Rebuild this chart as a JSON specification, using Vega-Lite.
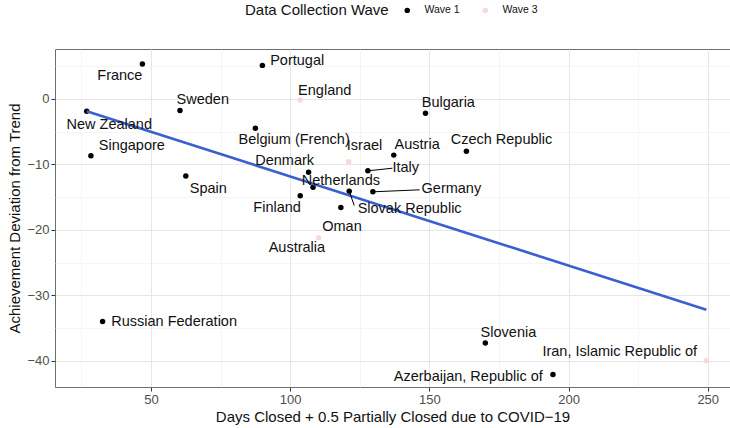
{
  "$schema": "https://vega.github.io/schema/vega-lite/v6.json",
  "width": 675,
  "height": 338,
  "autosize": "none",
  "padding": {"left": 55, "top": 49, "right": 0, "bottom": 41},
  "background": "white",
  "config": {
    "font": "Liberation Sans",
    "view": {"stroke": "#6e6e6e", "strokeWidth": 1}
  },
  "datasets": {
    "countries": [
      {"country": "France", "wave": "Wave 1", "days": 46.9, "dev": 5.3, "lx": 38.8, "ly": 3.5},
      {"country": "Portugal", "wave": "Wave 1", "days": 90.0, "dev": 5.1, "lx": 102.5, "ly": 5.8},
      {"country": "England", "wave": "Wave 3", "days": 103.6, "dev": -0.2, "lx": 112.4, "ly": 1.2},
      {"country": "Sweden", "wave": "Wave 1", "days": 60.4, "dev": -1.8, "lx": 68.6, "ly": -0.2},
      {"country": "New Zealand", "wave": "Wave 1", "days": 26.9, "dev": -1.9, "lx": 35.0, "ly": -4.0},
      {"country": "Singapore", "wave": "Wave 1", "days": 28.4, "dev": -8.7, "lx": 43.1, "ly": -7.2},
      {"country": "Spain", "wave": "Wave 1", "days": 62.5, "dev": -11.8, "lx": 70.6, "ly": -13.7},
      {"country": "Belgium (French)", "wave": "Wave 1", "days": 87.5, "dev": -4.5, "lx": 101.4, "ly": -6.3},
      {"country": "Israel", "wave": "Wave 3", "days": 121.0, "dev": -9.6, "lx": 126.7, "ly": -7.2},
      {"country": "Austria", "wave": "Wave 1", "days": 137.2, "dev": -8.6, "lx": 145.6, "ly": -7.0},
      {"country": "Czech Republic", "wave": "Wave 1", "days": 163.3, "dev": -8.0, "lx": 175.9, "ly": -6.3},
      {"country": "Bulgaria", "wave": "Wave 1", "days": 148.6, "dev": -2.2, "lx": 156.8, "ly": -0.7},
      {"country": "Denmark", "wave": "Wave 1", "days": 106.6, "dev": -11.2, "lx": 98.0, "ly": -9.5},
      {"country": "Italy", "wave": "Wave 1", "days": 127.9, "dev": -11.0, "lx": 141.5, "ly": -10.6},
      {"country": "Netherlands", "wave": "Wave 1", "days": 108.2, "dev": -13.5, "lx": 118.2, "ly": -12.5},
      {"country": "Germany", "wave": "Wave 1", "days": 129.7, "dev": -14.2, "lx": 157.9, "ly": -13.7},
      {"country": "Slovak Republic", "wave": "Wave 1", "days": 121.2, "dev": -14.1, "lx": 142.9, "ly": -16.8},
      {"country": "Finland", "wave": "Wave 1", "days": 103.6, "dev": -14.8, "lx": 95.3, "ly": -16.6},
      {"country": "Oman", "wave": "Wave 1", "days": 118.2, "dev": -16.6, "lx": 118.6, "ly": -19.5},
      {"country": "Australia", "wave": "Wave 3", "days": 110.2, "dev": -21.2, "lx": 102.4, "ly": -22.8},
      {"country": "Russian Federation", "wave": "Wave 1", "days": 32.6, "dev": -34.0, "lx": 58.3, "ly": -34.1},
      {"country": "Slovenia", "wave": "Wave 1", "days": 170.1, "dev": -37.3, "lx": 178.4, "ly": -35.7},
      {"country": "Iran, Islamic Republic of", "wave": "Wave 3", "days": 249.5, "dev": -40.0, "lx": 218.4, "ly": -38.7},
      {"country": "Azerbaijan, Republic of", "wave": "Wave 1", "days": 194.4, "dev": -42.1, "lx": 164.0, "ly": -42.5}
    ],
    "leaders": [
      {"country": "Italy", "days": 127.9, "dev": -11.0, "ex": 136.7, "ey": -10.6},
      {"country": "Germany", "days": 129.7, "dev": -14.2, "ex": 146.5, "ey": -13.9},
      {"country": "Slovak Republic", "days": 121.2, "dev": -14.1, "ex": 123.0, "ey": -16.3}
    ],
    "trend": [
      {"days": 26.9, "dev": -1.9},
      {"days": 249.5, "dev": -32.2}
    ]
  },
  "resolve": {"axis": {"x": "independent", "y": "independent"}},
  "layer": [
    {
      "data": {"name": "countries"},
      "mark": {"type": "circle", "size": 30, "opacity": 1},
      "encoding": {
        "x": {
          "field": "days", "type": "quantitative",
          "scale": {"domain": [15.5, 258], "nice": false, "zero": false},
          "axis": {
            "orient": "bottom",
            "values": [50, 100, 150, 200, 250],
            "grid": true, "gridColor": "#e6e6e6", "gridWidth": 1,
            "domain": false,
            "tickColor": "#333333", "tickSize": 4,
            "labelFontSize": 13, "labelColor": "#4d4d4d", "labelPadding": 2,
            "title": "Days Closed + 0.5 Partially Closed due to COVID\u221219",
            "titleFontSize": 15, "titleFontWeight": "normal", "titleColor": "#111111", "titlePadding": 3
          }
        },
        "y": {
          "field": "dev", "type": "quantitative",
          "scale": {"domain": [-44, 7.6], "nice": false, "zero": false},
          "axis": {
            "orient": "left",
            "values": [-40, -30, -20, -10, 0],
            "grid": true, "gridColor": "#e6e6e6", "gridWidth": 1,
            "domain": false,
            "tickColor": "#333333", "tickSize": 4,
            "labelFontSize": 13, "labelColor": "#4d4d4d", "labelPadding": 2,
            "title": "Achievement Deviation from Trend",
            "titleFontSize": 15, "titleFontWeight": "normal", "titleColor": "#111111", "titlePadding": 4
          }
        },
        "color": {
          "field": "wave", "type": "nominal",
          "scale": {"domain": ["Wave 1", "Wave 3"], "range": ["#000000", "#f6dad5"]},
          "legend": {
            "title": "Data Collection Wave",
            "orient": "none", "legendX": 190, "legendY": -44,
            "direction": "horizontal", "titleOrient": "left",
            "titleFontSize": 15, "titleFontWeight": "normal", "titleColor": "#111111", "titlePadding": 13,
            "labelFontSize": 10.5, "labelColor": "#111111", "labelOffset": 12,
            "symbolType": "circle", "symbolSize": 30, "symbolStrokeWidth": 0,
            "columnPadding": 20
          }
        }
      }
    },
    {
      "data": {"name": "trend"},
      "mark": {"type": "line", "color": "#3a5fcf", "strokeWidth": 2.6},
      "encoding": {
        "x": {
          "field": "days", "type": "quantitative",
          "axis": {
            "orient": "top", "values": [25, 75, 125, 175, 225],
            "grid": true, "gridColor": "#f1f1f1", "gridWidth": 0.7,
            "labels": false, "ticks": false, "domain": false, "title": null
          }
        },
        "y": {
          "field": "dev", "type": "quantitative",
          "axis": {
            "orient": "right", "values": [-35, -25, -15, -5, 5],
            "grid": true, "gridColor": "#f1f1f1", "gridWidth": 0.7,
            "labels": false, "ticks": false, "domain": false, "title": null
          }
        }
      }
    },
    {
      "mark": {"type": "rule", "color": "#000000", "strokeWidth": 1.3},
      "encoding": {
        "y": {"datum": 0, "type": "quantitative", "axis": null}
      }
    },
    {
      "data": {"name": "leaders"},
      "mark": {"type": "rule", "color": "#000000", "strokeWidth": 1},
      "encoding": {
        "x": {"field": "days", "type": "quantitative", "axis": null},
        "y": {"field": "dev", "type": "quantitative", "axis": null},
        "x2": {"field": "ex"},
        "y2": {"field": "ey"}
      }
    },
    {
      "data": {"name": "countries"},
      "mark": {"type": "text", "fontSize": 14.5, "color": "#111111", "align": "center", "baseline": "middle"},
      "encoding": {
        "x": {"field": "lx", "type": "quantitative", "axis": null},
        "y": {"field": "ly", "type": "quantitative", "axis": null},
        "text": {"field": "country"}
      }
    }
  ]
}
